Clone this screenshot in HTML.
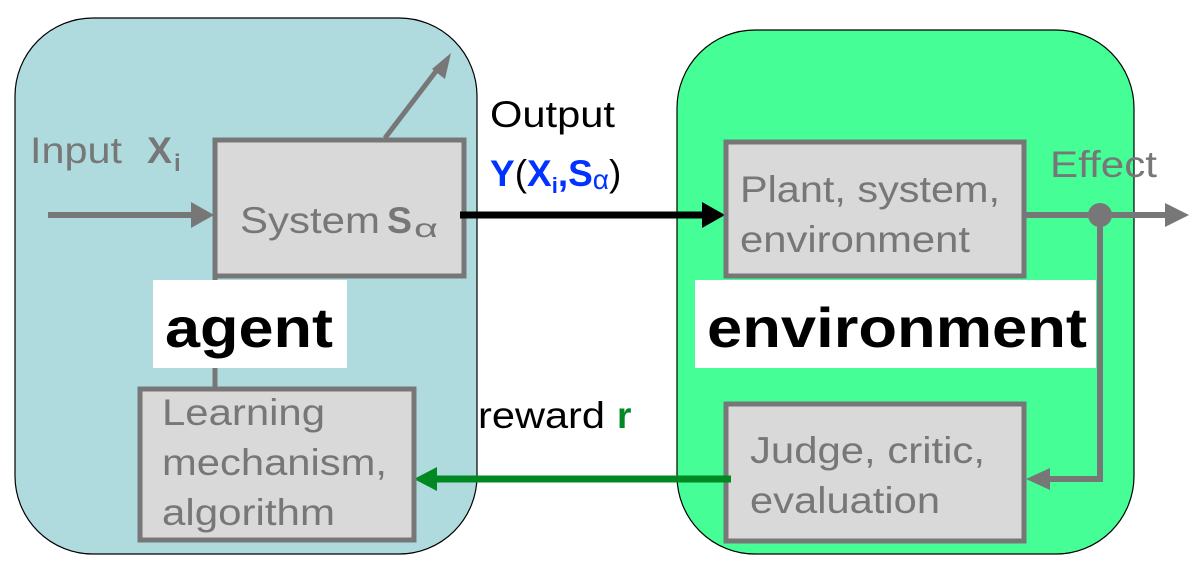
<!DOCTYPE html>
<html><head><meta charset="utf-8"><style>
html,body{margin:0;padding:0;background:#fff;}
svg{display:block;}
text{font-family:"Liberation Sans",sans-serif;}
</style></head><body>
<svg width="1197" height="564" viewBox="0 0 1197 564" xmlns="http://www.w3.org/2000/svg">
<rect x="15" y="18" width="462" height="536" rx="78" ry="78" fill="#afdbde" stroke="#000" stroke-width="1.2"/>
<rect x="677" y="30" width="457" height="524" rx="78" ry="78" fill="#45fe96" stroke="#000" stroke-width="1.2"/>

<line x1="385" y1="138" x2="440" y2="66" stroke="#777" stroke-width="5"/>
<path d="M451,53 L445,79 L432,69z" fill="#777"/>
<line x1="48" y1="215" x2="192" y2="215" stroke="#777" stroke-width="6"/>
<path d="M214,215 L191,202 L191,228z" fill="#777"/>
<rect x="215" y="140" width="249" height="136" fill="#d9d9d9" stroke="#777" stroke-width="5"/>
<text x="240" y="233" font-size="37" fill="#777" textLength="140" lengthAdjust="spacingAndGlyphs">System</text>
<text x="387" y="233" font-size="37" fill="#777" font-weight="bold" textLength="25" lengthAdjust="spacingAndGlyphs">S</text>
<text x="414" y="237" font-size="26" fill="#777" textLength="24" lengthAdjust="spacingAndGlyphs">α</text>
<text x="30" y="163" font-size="37" fill="#777" textLength="92" lengthAdjust="spacingAndGlyphs">Input</text>
<text x="147" y="163" font-size="37" fill="#777" font-weight="bold" textLength="25" lengthAdjust="spacingAndGlyphs">X</text>
<text x="174" y="171" font-size="24" fill="#777" font-weight="bold">i</text>

<line x1="215" y1="276" x2="215" y2="390" stroke="#777" stroke-width="5"/>

<line x1="460" y1="215" x2="702" y2="215" stroke="#000" stroke-width="7"/>
<path d="M725,215 L702,202 L702,228z" fill="#000"/>
<text x="490" y="127" font-size="37" fill="#000" textLength="125" lengthAdjust="spacingAndGlyphs">Output</text>
<text x="490" y="186" font-size="37" fill="#0033ff" font-weight="bold">Y<tspan fill="#000" font-weight="normal">(</tspan>X<tspan font-size="22" dy="7">i</tspan><tspan dy="-7">,S</tspan><tspan font-size="28" font-weight="normal" dy="3">α</tspan><tspan fill="#000" font-weight="normal" dy="-3">)</tspan></text>

<rect x="726" y="142" width="298" height="134" fill="#d9d9d9" stroke="#777" stroke-width="5"/>
<text x="740" y="202" font-size="37" fill="#777" textLength="260" lengthAdjust="spacingAndGlyphs">Plant, system,</text>
<text x="740" y="252" font-size="37" fill="#777" textLength="230" lengthAdjust="spacingAndGlyphs">environment</text>
<text x="1050" y="177" font-size="37" fill="#777" textLength="107" lengthAdjust="spacingAndGlyphs">Effect</text>
<line x1="1022" y1="215" x2="1165" y2="215" stroke="#777" stroke-width="6"/>
<path d="M1189,215 L1165,203 L1165,227z" fill="#777"/>
<circle cx="1100" cy="215" r="12" fill="#777"/>
<line x1="1100" y1="215" x2="1100" y2="479" stroke="#777" stroke-width="6"/>
<line x1="1103" y1="479" x2="1050" y2="479" stroke="#777" stroke-width="6"/>
<path d="M1026,479 L1050,468 L1050,490z" fill="#777"/>

<rect x="726" y="404" width="298" height="137" fill="#d9d9d9" stroke="#777" stroke-width="5"/>
<text x="750" y="463" font-size="37" fill="#777" textLength="235" lengthAdjust="spacingAndGlyphs">Judge, critic,</text>
<text x="750" y="513" font-size="37" fill="#777" textLength="190" lengthAdjust="spacingAndGlyphs">evaluation</text>

<line x1="731" y1="479" x2="436" y2="479" stroke="#008822" stroke-width="7"/>
<path d="M414,479 L437,467 L437,491z" fill="#008822"/>
<text x="478" y="428" font-size="37" fill="#000" textLength="127" lengthAdjust="spacingAndGlyphs">reward</text>
<text x="617" y="428" font-size="37" fill="#008822" font-weight="bold">r</text>

<rect x="140" y="389" width="274" height="151" fill="#d9d9d9" stroke="#777" stroke-width="5"/>
<text x="162" y="425" font-size="37" fill="#777" textLength="163" lengthAdjust="spacingAndGlyphs">Learning</text>
<text x="162" y="475" font-size="37" fill="#777" textLength="225" lengthAdjust="spacingAndGlyphs">mechanism,</text>
<text x="162" y="525" font-size="37" fill="#777" textLength="173" lengthAdjust="spacingAndGlyphs">algorithm</text>

<rect x="153" y="280" width="194" height="88" fill="#fff"/>
<text x="165" y="347" font-size="56" font-weight="bold" fill="#000" textLength="168" lengthAdjust="spacingAndGlyphs">agent</text>
<rect x="695" y="280" width="401" height="88" fill="#fff"/>
<text x="707" y="347" font-size="56" font-weight="bold" fill="#000" textLength="380" lengthAdjust="spacingAndGlyphs">environment</text>
</svg>
</body></html>
